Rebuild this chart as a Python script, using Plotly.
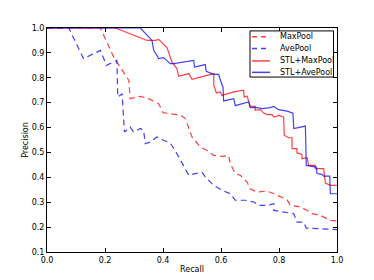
import plotly.graph_objects as go

maxpool_recall = [0.0, 0.184, 0.23, 0.27, 0.282, 0.287, 0.322, 0.35, 0.385, 0.40, 0.437, 0.46, 0.477, 0.50, 0.529, 0.552, 0.575, 0.603, 0.626, 0.632, 0.649, 0.667, 0.69, 0.70, 0.724, 0.759, 0.782, 0.805, 0.828, 0.839, 0.874, 0.897, 0.914, 0.943, 0.977, 1.0]
maxpool_precision = [1.0, 1.0, 0.883, 0.81, 0.79, 0.716, 0.725, 0.716, 0.696, 0.66, 0.652, 0.65, 0.636, 0.562, 0.522, 0.508, 0.488, 0.484, 0.488, 0.455, 0.415, 0.408, 0.381, 0.354, 0.341, 0.345, 0.334, 0.321, 0.31, 0.287, 0.281, 0.267, 0.254, 0.247, 0.227, 0.225]

avepool_recall = [0.0, 0.075, 0.126, 0.184, 0.205, 0.23, 0.241, 0.244, 0.259, 0.267, 0.287, 0.299, 0.322, 0.333, 0.339, 0.356, 0.379, 0.402, 0.425, 0.448, 0.471, 0.489, 0.511, 0.534, 0.546, 0.575, 0.603, 0.632, 0.649, 0.684, 0.713, 0.730, 0.759, 0.782, 0.782, 0.816, 0.851, 0.862, 0.885, 0.894, 0.943, 1.0]
avepool_precision = [1.0, 1.0, 0.877, 0.91, 0.85, 0.863, 0.87, 0.723, 0.736, 0.582, 0.602, 0.582, 0.596, 0.589, 0.535, 0.542, 0.562, 0.549, 0.538, 0.495, 0.448, 0.408, 0.415, 0.421, 0.401, 0.368, 0.348, 0.334, 0.308, 0.308, 0.301, 0.287, 0.287, 0.294, 0.267, 0.261, 0.254, 0.22, 0.22, 0.196, 0.194, 0.19]

stl_max_recall = [0.0, 0.236, 0.345, 0.374, 0.385, 0.414, 0.431, 0.448, 0.454, 0.471, 0.489, 0.5, 0.529, 0.552, 0.575, 0.575, 0.584, 0.598, 0.603, 0.644, 0.678, 0.680, 0.690, 0.701, 0.718, 0.718, 0.736, 0.747, 0.759, 0.776, 0.782, 0.8, 0.816, 0.818, 0.833, 0.845, 0.845, 0.862, 0.862, 0.879, 0.879, 0.897, 0.902, 0.925, 0.925, 0.954, 0.960, 0.977, 1.0]
stl_max_precision = [1.0, 1.0, 0.95, 0.95, 0.954, 0.92, 0.863, 0.837, 0.806, 0.81, 0.817, 0.794, 0.803, 0.81, 0.817, 0.77, 0.739, 0.743, 0.729, 0.743, 0.75, 0.723, 0.726, 0.685, 0.685, 0.669, 0.672, 0.658, 0.652, 0.652, 0.642, 0.649, 0.642, 0.569, 0.559, 0.559, 0.515, 0.515, 0.498, 0.492, 0.475, 0.479, 0.448, 0.448, 0.435, 0.435, 0.377, 0.368, 0.368]

stl_ave_recall = [0.0, 0.322, 0.362, 0.368, 0.385, 0.402, 0.425, 0.437, 0.506, 0.509, 0.546, 0.549, 0.575, 0.592, 0.598, 0.607, 0.609, 0.644, 0.649, 0.695, 0.701, 0.724, 0.741, 0.770, 0.782, 0.799, 0.828, 0.848, 0.851, 0.891, 0.894, 0.914, 0.929, 0.931, 0.948, 0.954, 0.975, 0.977, 1.0]
stl_ave_precision = [1.0, 1.0, 0.95, 0.91, 0.877, 0.881, 0.857, 0.857, 0.87, 0.843, 0.853, 0.826, 0.814, 0.814, 0.79, 0.761, 0.707, 0.716, 0.688, 0.703, 0.68, 0.68, 0.676, 0.68, 0.685, 0.672, 0.666, 0.658, 0.596, 0.606, 0.448, 0.444, 0.441, 0.415, 0.412, 0.405, 0.405, 0.334, 0.334]

series_names = ["MaxPool", "AvePool", "STL+MaxPool", "STL+AvePool"]
x_ticks = [0.0, 0.2, 0.4, 0.6, 0.8, 1.0]
y_ticks = [0.1, 0.2, 0.3, 0.4, 0.5, 0.6, 0.7, 0.8, 0.9, 1.0]

RED = "rgba(255,0,0,0.75)"
BLUE = "rgba(0,0,255,0.75)"
DASH = "6px,4px"
FONT = "DejaVu Sans"

series = [
    (maxpool_recall, maxpool_precision, RED, DASH),
    (avepool_recall, avepool_precision, BLUE, DASH),
    (stl_max_recall, stl_max_precision, RED, "solid"),
    (stl_ave_recall, stl_ave_precision, BLUE, "solid"),
]

fig = go.Figure()
for name, (xs, ys, col, dash) in zip(series_names, series):
    fig.add_trace(go.Scatter(x=xs, y=ys, mode="lines", name=name, showlegend=False,
                             line=dict(color=col, width=1.2, dash=dash)))

# Compact matplotlib-style legend, in plot-area paper coordinates
leg_x0, leg_x1, leg_top, leg_bot = 0.700, 0.988, 0.987, 0.781
row_y = [0.961, 0.909, 0.853, 0.802]
line_x0, line_x1, text_x = 0.707, 0.769, 0.796
fig.add_shape(type="rect", xref="paper", yref="paper", x0=leg_x0, x1=leg_x1, y0=leg_bot, y1=leg_top,
              line=dict(color="black", width=1), fillcolor="white", layer="above")
for name, (xs, ys, col, dash), ry in zip(series_names, series, row_y):
    fig.add_shape(type="line", xref="paper", yref="paper", x0=line_x0, x1=line_x1, y0=ry, y1=ry,
                  line=dict(color=col, width=1.5, dash=("5px,4px" if dash != "solid" else "solid")),
                  layer="above")
    fig.add_annotation(xref="paper", yref="paper", x=text_x, y=ry, text=name, showarrow=False,
                       xanchor="left", yanchor="middle", font=dict(family=FONT, size=8, color="black"))

axis_common = dict(showgrid=False, zeroline=False, showline=True, linecolor="black", linewidth=1,
                   mirror="ticks", ticks="inside", ticklen=4, tickcolor="black",
                   tickfont=dict(family=FONT, size=8, color="black"))

fig.update_layout(
    width=374, height=280,
    margin=dict(l=39, r=45, t=20, b=36),
    paper_bgcolor="white", plot_bgcolor="white",
    font=dict(family=FONT, size=8, color="black"),
    xaxis=dict(range=[0, 1], tickvals=x_ticks, tickformat=".1f",
               title=dict(text="Recall", standoff=2, font=dict(size=8)), **axis_common),
    yaxis=dict(range=[0.1, 1.0], tickvals=y_ticks, tickformat=".1f",
               title=dict(text="Precision", standoff=1, font=dict(size=8)), **axis_common),
    showlegend=False,
)

fig.write_html("out.html")
